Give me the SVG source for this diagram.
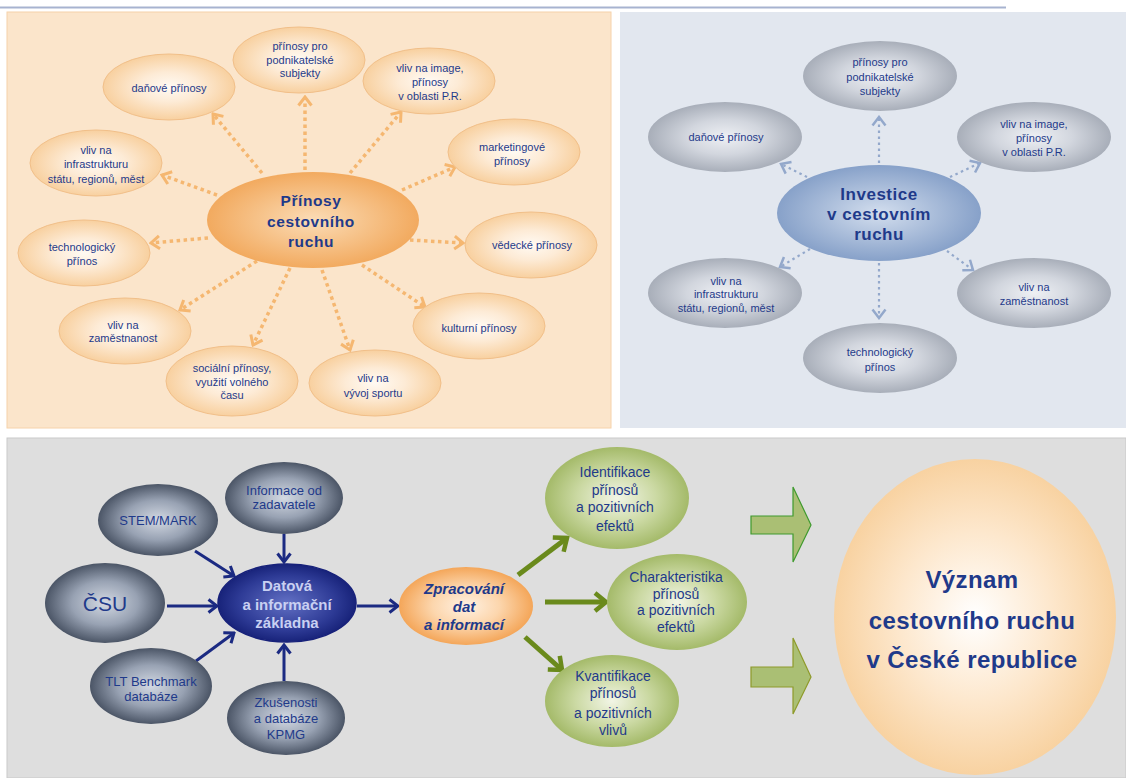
<svg xmlns="http://www.w3.org/2000/svg" width="1126" height="778" viewBox="0 0 1126 778">
  <defs>
    <style>
      .t { font-family: "Liberation Sans", Arial, sans-serif; fill: #1f3a8a; text-anchor: middle; }
      .s11 { font-size: 11px; }
      .s13 { font-size: 13px; }
      .s14 { font-size: 14px; }
      .b { font-weight: bold; }
      .peach { fill: url(#gPeach); stroke: #f1bf89; stroke-width: 1; }
      .gray { fill: url(#gGray); stroke: none; }
      .slate { fill: url(#gSlate); stroke: none; }
      .green { fill: url(#gGreen); stroke: none; }
      .dotO { fill: none; stroke: #f5b771; stroke-width: 3.5; stroke-dasharray: 3.5 3.5; }
      .dotB { fill: none; stroke: #93a8cb; stroke-width: 2.2; stroke-dasharray: 2.5 3.5; }
      .navy { fill: none; stroke: #1b2a82; stroke-width: 3; }
      .olive { fill: none; stroke: #6a8a1c; stroke-width: 5; }
    </style>
    <radialGradient id="gPeach" cx="50%" cy="50%" r="50%">
      <stop offset="0" stop-color="#fffaf3"/>
      <stop offset="0.45" stop-color="#fdebd6"/>
      <stop offset="1" stop-color="#f8d09f"/>
    </radialGradient>
    <radialGradient id="gPeachHub" cx="50%" cy="50%" r="50%">
      <stop offset="0" stop-color="#fbdcb6"/>
      <stop offset="1" stop-color="#f2aa5f"/>
    </radialGradient>
    <radialGradient id="gGray" cx="50%" cy="50%" r="50%">
      <stop offset="0" stop-color="#eef0f4"/>
      <stop offset="0.5" stop-color="#d2d6de"/>
      <stop offset="1" stop-color="#a8aeb9"/>
    </radialGradient>
    <radialGradient id="gBlueHub" cx="50%" cy="50%" r="50%">
      <stop offset="0" stop-color="#d3deee"/>
      <stop offset="1" stop-color="#87a1c9"/>
    </radialGradient>
    <radialGradient id="gSlate" cx="50%" cy="50%" r="50%">
      <stop offset="0" stop-color="#d3d9e3"/>
      <stop offset="0.55" stop-color="#98a2b3"/>
      <stop offset="1" stop-color="#4b5566"/>
    </radialGradient>
    <radialGradient id="gNavy" cx="50%" cy="50%" r="50%">
      <stop offset="0" stop-color="#6270c4"/>
      <stop offset="0.7" stop-color="#2e3b96"/>
      <stop offset="1" stop-color="#18237a"/>
    </radialGradient>
    <radialGradient id="gOrange" cx="50%" cy="50%" r="50%">
      <stop offset="0" stop-color="#fff1e2"/>
      <stop offset="0.5" stop-color="#fcd6ad"/>
      <stop offset="1" stop-color="#f4a659"/>
    </radialGradient>
    <radialGradient id="gGreen" cx="50%" cy="50%" r="50%">
      <stop offset="0" stop-color="#f2f5e6"/>
      <stop offset="0.55" stop-color="#cbd9a3"/>
      <stop offset="1" stop-color="#a4ba69"/>
    </radialGradient>
    <radialGradient id="gSun" cx="50%" cy="50%" r="50%">
      <stop offset="0" stop-color="#ffffff"/>
      <stop offset="0.55" stop-color="#fde7cc"/>
      <stop offset="1" stop-color="#f8d2a1"/>
    </radialGradient>
    <marker id="chevO" viewBox="0 0 12 16" refX="10" refY="8" markerWidth="12" markerHeight="16" orient="auto" markerUnits="userSpaceOnUse">
      <path d="M1.5,1.5 L10,8 L1.5,14.5" fill="none" stroke="#f5b771" stroke-width="3"/>
    </marker>
    <marker id="chevB" viewBox="0 0 12 16" refX="10" refY="8" markerWidth="12" markerHeight="16" orient="auto" markerUnits="userSpaceOnUse">
      <path d="M1.5,1.5 L10,8 L1.5,14.5" fill="none" stroke="#93a8cb" stroke-width="2.5"/>
    </marker>
    <marker id="chevN" viewBox="0 0 12 16" refX="10" refY="8" markerWidth="12" markerHeight="16" orient="auto" markerUnits="userSpaceOnUse">
      <path d="M1.5,1.5 L10,8 L1.5,14.5" fill="none" stroke="#1b2a82" stroke-width="3"/>
    </marker>
    <marker id="chevG" viewBox="0 0 16 22" refX="13" refY="11" markerWidth="16" markerHeight="22" orient="auto" markerUnits="userSpaceOnUse">
      <path d="M2,2 L13,11 L2,20" fill="none" stroke="#6a8a1c" stroke-width="4.5"/>
    </marker>
  </defs>

  <!-- page background and rule -->
  <rect x="0" y="0" width="1126" height="778" fill="#ffffff"/>
  <rect x="0" y="6.5" width="1006" height="2" fill="#a7b3d0"/>

  <!-- panels -->
  <rect id="panel-benefits" x="7" y="12" width="604" height="416" fill="#fbe5cb" stroke="#f6d2aa" stroke-width="1"/>
  <rect id="panel-investment" x="620" y="12" width="506" height="416" fill="#e2e7ef"/>
  <rect id="panel-process" x="7" y="438" width="1119" height="340" fill="#dedede" stroke="#c9c9c9" stroke-width="1"/>

  <!-- connectors -->
  <g id="connectors">
    <!-- benefits star -->
    <line class="dotO" x1="262" y1="173" x2="213" y2="114" marker-end="url(#chevO)"/>
    <line class="dotO" x1="305" y1="170" x2="305" y2="97" marker-end="url(#chevO)"/>
    <line class="dotO" x1="350" y1="173" x2="401" y2="112" marker-end="url(#chevO)"/>
    <line class="dotO" x1="402" y1="190" x2="455" y2="167" marker-end="url(#chevO)"/>
    <line class="dotO" x1="217" y1="195" x2="162" y2="175" marker-end="url(#chevO)"/>
    <line class="dotO" x1="208" y1="238" x2="151" y2="243" marker-end="url(#chevO)"/>
    <line class="dotO" x1="257" y1="261" x2="180" y2="310" marker-end="url(#chevO)"/>
    <line class="dotO" x1="290" y1="268" x2="253" y2="345" marker-end="url(#chevO)"/>
    <line class="dotO" x1="410" y1="240" x2="463" y2="243" marker-end="url(#chevO)"/>
    <line class="dotO" x1="362" y1="265" x2="425" y2="307" marker-end="url(#chevO)"/>
    <line class="dotO" x1="322" y1="270" x2="350" y2="350" marker-end="url(#chevO)"/>
    <!-- investment star -->
    <line class="dotB" x1="879" y1="163" x2="879" y2="117" marker-end="url(#chevB)"/>
    <line class="dotB" x1="807" y1="177" x2="781" y2="164" marker-end="url(#chevB)"/>
    <line class="dotB" x1="950" y1="177" x2="980" y2="163" marker-end="url(#chevB)"/>
    <line class="dotB" x1="810" y1="249" x2="780" y2="267" marker-end="url(#chevB)"/>
    <line class="dotB" x1="947" y1="251" x2="973" y2="270" marker-end="url(#chevB)"/>
    <line class="dotB" x1="879" y1="263" x2="879" y2="318" marker-end="url(#chevB)"/>
    <!-- sources to data base -->
    <line class="navy" x1="195" y1="551" x2="234" y2="576" marker-end="url(#chevN)"/>
    <line class="navy" x1="284" y1="534" x2="284" y2="562" marker-end="url(#chevN)"/>
    <line class="navy" x1="167" y1="606" x2="217" y2="606" marker-end="url(#chevN)"/>
    <line class="navy" x1="196" y1="661" x2="234" y2="633" marker-end="url(#chevN)"/>
    <line class="navy" x1="284" y1="681" x2="284" y2="645" marker-end="url(#chevN)"/>
    <line class="navy" x1="357" y1="606" x2="398" y2="606" marker-end="url(#chevN)"/>
    <!-- processing to results -->
    <line class="olive" x1="518" y1="575" x2="567" y2="538" marker-end="url(#chevG)"/>
    <line class="olive" x1="545" y1="602" x2="606" y2="602" marker-end="url(#chevG)"/>
    <line class="olive" x1="525" y1="637" x2="562" y2="670" marker-end="url(#chevG)"/>
    <!-- block arrows -->
    <polygon points="751,516 793,516 793,487 811,525 793,562 793,534 751,534" fill="#aabf74" stroke="#3f9a2e" stroke-width="1.2"/>
    <polygon points="751,667 793,667 793,638 811,677 793,714 793,687 751,687" fill="#aabf74" stroke="#8e9a2a" stroke-width="1.2"/>
  </g>

  <!-- benefits panel nodes -->
  <g id="hub-prinosy">
    <ellipse cx="313" cy="220" rx="106" ry="48" fill="url(#gPeachHub)"/>
    <text class="t b" font-size="15.5" x="311" y="206" letter-spacing="0.6">Přínosy</text>
    <text class="t b" font-size="15.5" x="311" y="227" letter-spacing="0.6">cestovního</text>
    <text class="t b" font-size="15.5" x="311" y="247" letter-spacing="0.6">ruchu</text>
  </g>
  <g id="p-danove">
    <ellipse class="peach" cx="169" cy="87" rx="66" ry="33"/>
    <text class="t s11" x="169" y="92">daňové přínosy</text>
  </g>
  <g id="p-podnikatelske">
    <ellipse class="peach" cx="299" cy="60" rx="66" ry="33"/>
    <text class="t s11" x="300" y="50">přínosy pro</text>
    <text class="t s11" x="300" y="64">podnikatelské</text>
    <text class="t s11" x="300" y="77">subjekty</text>
  </g>
  <g id="p-image">
    <ellipse class="peach" cx="429" cy="81" rx="66" ry="33"/>
    <text class="t s11" x="430" y="72">vliv na image,</text>
    <text class="t s11" x="430" y="86">přínosy</text>
    <text class="t s11" x="430" y="100">v oblasti P.R.</text>
  </g>
  <g id="p-marketingove">
    <ellipse class="peach" cx="514" cy="152" rx="66" ry="33"/>
    <text class="t s11" x="512" y="151">marketingové</text>
    <text class="t s11" x="512" y="165">přínosy</text>
  </g>
  <g id="p-infrastruktura">
    <ellipse class="peach" cx="96" cy="163" rx="66" ry="33"/>
    <text class="t s11" x="96" y="154">vliv na</text>
    <text class="t s11" x="96" y="168">infrastrukturu</text>
    <text class="t s11" x="96" y="183">státu, regionů, měst</text>
  </g>
  <g id="p-technologicky">
    <ellipse class="peach" cx="84" cy="253" rx="66" ry="33"/>
    <text class="t s11" x="82" y="251">technologický</text>
    <text class="t s11" x="82" y="265">přínos</text>
  </g>
  <g id="p-zamestnanost">
    <ellipse class="peach" cx="125" cy="331" rx="66" ry="33"/>
    <text class="t s11" x="123" y="329">vliv na</text>
    <text class="t s11" x="123" y="342">zaměstnanost</text>
  </g>
  <g id="p-socialni">
    <ellipse class="peach" cx="232" cy="381" rx="66" ry="35"/>
    <text class="t s11" x="232" y="372">sociální přínosy,</text>
    <text class="t s11" x="232" y="386">využití volného</text>
    <text class="t s11" x="232" y="399">času</text>
  </g>
  <g id="p-vedecke">
    <ellipse class="peach" cx="531" cy="245" rx="66" ry="33"/>
    <text class="t s11" x="532" y="249">vědecké přínosy</text>
  </g>
  <g id="p-kulturni">
    <ellipse class="peach" cx="479" cy="326" rx="66" ry="33"/>
    <text class="t s11" x="479" y="332">kulturní přínosy</text>
  </g>
  <g id="p-sport">
    <ellipse class="peach" cx="375" cy="383" rx="66" ry="33"/>
    <text class="t s11" x="373" y="382">vliv na</text>
    <text class="t s11" x="373" y="397">vývoj sportu</text>
  </g>

  <!-- investment panel nodes -->
  <g id="hub-investice">
    <ellipse cx="879" cy="213" rx="102" ry="48" fill="url(#gBlueHub)"/>
    <text class="t b" font-size="17" x="879" y="200" letter-spacing="0.5">Investice</text>
    <text class="t b" font-size="17" x="879" y="220" letter-spacing="0.5">v cestovním</text>
    <text class="t b" font-size="17" x="879" y="240" letter-spacing="0.5">ruchu</text>
  </g>
  <g id="i-podnikatelske">
    <ellipse class="gray" cx="880" cy="76" rx="77" ry="35"/>
    <text class="t s11" x="880" y="66">přínosy pro</text>
    <text class="t s11" x="880" y="81">podnikatelské</text>
    <text class="t s11" x="880" y="95">subjekty</text>
  </g>
  <g id="i-danove">
    <ellipse class="gray" cx="725" cy="137" rx="77" ry="35"/>
    <text class="t s11" x="726" y="141">daňové přínosy</text>
  </g>
  <g id="i-image">
    <ellipse class="gray" cx="1034" cy="137" rx="77" ry="35"/>
    <text class="t s11" x="1034" y="128">vliv na image,</text>
    <text class="t s11" x="1034" y="142">přínosy</text>
    <text class="t s11" x="1034" y="156">v oblasti P.R.</text>
  </g>
  <g id="i-infrastruktura">
    <ellipse class="gray" cx="725" cy="293" rx="77" ry="35"/>
    <text class="t s11" x="726" y="285">vliv na</text>
    <text class="t s11" x="726" y="298">infrastrukturu</text>
    <text class="t s11" x="726" y="312">státu, regionů, měst</text>
  </g>
  <g id="i-zamestnanost">
    <ellipse class="gray" cx="1034" cy="293" rx="77" ry="35"/>
    <text class="t s11" x="1034" y="291">vliv na</text>
    <text class="t s11" x="1034" y="305">zaměstnanost</text>
  </g>
  <g id="i-technologicky">
    <ellipse class="gray" cx="880" cy="358" rx="77" ry="35"/>
    <text class="t s11" x="880" y="356">technologický</text>
    <text class="t s11" x="880" y="371">přínos</text>
  </g>

  <!-- process panel: sources -->
  <g id="src-stemmark">
    <ellipse class="slate" cx="158" cy="520" rx="60" ry="36"/>
    <text class="t s13" x="158" y="525">STEM/MARK</text>
  </g>
  <g id="src-zadavatel">
    <ellipse class="slate" cx="284" cy="498" rx="59" ry="36"/>
    <text class="t s13" x="284" y="495">Informace od</text>
    <text class="t s13" x="284" y="509">zadavatele</text>
  </g>
  <g id="src-csu">
    <ellipse class="slate" cx="105" cy="603" rx="60" ry="40"/>
    <text class="t" font-size="21" x="105" y="611">ČSU</text>
  </g>
  <g id="src-tlt">
    <ellipse class="slate" cx="151" cy="686" rx="61" ry="38"/>
    <text class="t s13" x="151" y="686">TLT Benchmark</text>
    <text class="t s13" x="151" y="701">databáze</text>
  </g>
  <g id="src-kpmg">
    <ellipse class="slate" cx="286" cy="718" rx="59" ry="37"/>
    <text class="t s13" x="286" y="707">Zkušenosti</text>
    <text class="t s13" x="286" y="723">a databáze</text>
    <text class="t s13" x="286" y="739">KPMG</text>
  </g>
  <g id="data-base">
    <ellipse cx="287" cy="603" rx="69" ry="39" fill="url(#gNavy)" stroke="#17217a" stroke-width="1.5"/>
    <text class="t b" font-size="15" x="287" y="591" style="fill:#c9d0f2">Datová</text>
    <text class="t b" font-size="15" x="287" y="610" style="fill:#c9d0f2">a informační</text>
    <text class="t b" font-size="15" x="287" y="628" style="fill:#c9d0f2">základna</text>
  </g>
  <g id="processing">
    <ellipse cx="466" cy="606" rx="67" ry="39" fill="url(#gOrange)"/>
    <text class="t b" font-size="15" font-style="italic" x="464" y="594">Zpracování</text>
    <text class="t b" font-size="15" font-style="italic" x="464" y="612">dat</text>
    <text class="t b" font-size="15" font-style="italic" x="464" y="630">a informací</text>
  </g>
  <g id="res-identifikace">
    <ellipse class="green" cx="617" cy="498" rx="72" ry="51"/>
    <text class="t s14" x="615" y="477">Identifikace</text>
    <text class="t s14" x="615" y="495">přínosů</text>
    <text class="t s14" x="615" y="512">a pozitivních</text>
    <text class="t s14" x="615" y="531">efektů</text>
  </g>
  <g id="res-charakteristika">
    <ellipse class="green" cx="677" cy="602" rx="70" ry="48"/>
    <text class="t s14" x="676" y="582">Charakteristika</text>
    <text class="t s14" x="676" y="599">přínosů</text>
    <text class="t s14" x="676" y="615">a pozitivních</text>
    <text class="t s14" x="676" y="632">efektů</text>
  </g>
  <g id="res-kvantifikace">
    <ellipse class="green" cx="612" cy="701" rx="67" ry="46"/>
    <text class="t s14" x="613" y="681">Kvantifikace</text>
    <text class="t s14" x="613" y="698">přínosů</text>
    <text class="t s14" x="613" y="718">a pozitivních</text>
    <text class="t s14" x="613" y="735">vlivů</text>
  </g>
  <g id="vyznam">
    <ellipse cx="975" cy="617" rx="141" ry="158" fill="url(#gSun)"/>
    <text class="t b" font-size="24" x="972" y="588" letter-spacing="0.4">Význam</text>
    <text class="t b" font-size="24" x="972" y="629" letter-spacing="0.4">cestovního ruchu</text>
    <text class="t b" font-size="24" x="972" y="668" letter-spacing="0.4">v České republice</text>
  </g>
</svg>
